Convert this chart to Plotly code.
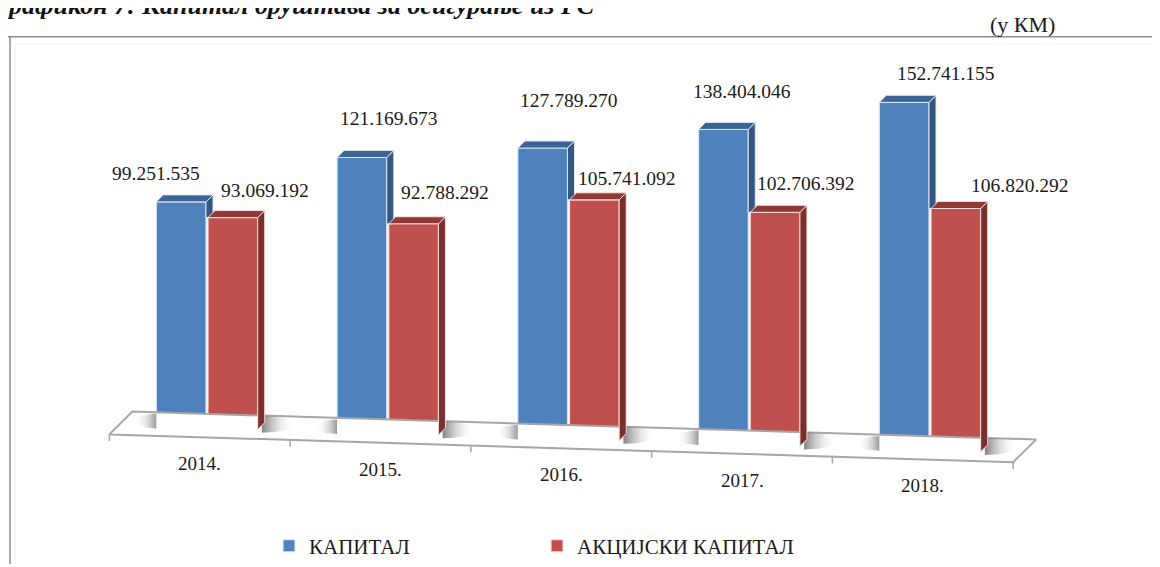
import math
import plotly.graph_objects as go

# ---------------- data ----------------
years = ["2014.", "2015.", "2016.", "2017.", "2018."]
kapital = [99251535, 121169673, 127789270, 138404046, 152741155]
akcijski_kapital = [93069192, 92788292, 105741092, 102706392, 106820292]
series_names = ["КАПИТАЛ", "АКЦИЈСКИ КАПИТАЛ"]
unit_label = "(у КМ)"
title_text = "Графикон 7: Капитал друштава за осигурање из РС"

# ---------------- style ----------------
FONT = "Liberation Serif, Times New Roman, serif"
BLUE = dict(front="#4F81BD", top="#3B6393", side="#34577F", edge="rgba(220,232,246,0.95)")
RED = dict(front="#C0504D", top="#8E3936", side="#7A2F2D", edge="rgba(246,222,221,0.95)")
SCALE = 1e6
OFF = 0.143      # half distance between the two bars of a group
W = 0.275        # bar width (category units)
DX = 0.0387      # depth offset x (category units)
DY = 3.06        # depth offset y (millions)
DROP = 2.445     # perspective drop of floor per category (millions)
FLOOR_FRONT = -3.8
FLOOR_BACK = 6.2
FLOOR_SHIFT = 0.127
PAGE = 8         # page body margin (px)
FW, FH = 1160 - PAGE, 567 - PAGE
PX_PER_CAT = 180.75
PX_PER_M = 2.29
X0_PX = 207 - PAGE
Y0_PX = 431 - PAGE
# label offsets in pixels (xshift, yshift) relative to bar top
blue_label_shift = [(-25, 28), (27, 39), (26, 48), (19, 38), (42, 29)]
red_label_shift = [(32, 27), (31, 31), (33, 21), (31, 29), (64, 23)]


def base(x):
    return -DROP * x


def fmt(v):
    return f"{v:,}".replace(",", ".")


def px(x):  # window pixel -> paper x
    return (x - PAGE) / FW


def py(y):  # window pixel -> paper y
    return 1 - (y - PAGE) / FH


n = len(years)
fig = go.Figure()

# floor
xl, xr = -0.54, n - 0.54
floor_x = [xl, xr, xr + FLOOR_SHIFT, xl + FLOOR_SHIFT, xl]
floor_y = [base(xl) + FLOOR_FRONT, base(xr) + FLOOR_FRONT,
           base(xr) + FLOOR_BACK, base(xl) + FLOOR_BACK, base(xl) + FLOOR_FRONT]
fig.add_trace(go.Scatter(x=floor_x, y=floor_y, mode="lines", fill="toself",
                         fillcolor="white", line=dict(color="#A6A6A6", width=2),
                         hoverinfo="skip", showlegend=False))


def half_ellipse(cx, cy, a, b, side):
    pts = [(-90 + 180 * k / 24) for k in range(25)]
    xs = [cx + side * a * math.cos(math.radians(t)) for t in pts]
    ys = [cy + b * math.sin(math.radians(t)) for t in pts]
    return xs + [xs[0]], ys + [ys[0]]


# floor shadows (soft)
for i in range(n):
    rx1 = i + OFF + W / 2 + DX * 0.6
    b = base(i + OFF)
    xs, ys = half_ellipse(rx1, b + 2.4, 0.18, 3.8, 1)
    fig.add_trace(go.Scatter(
        x=xs, y=ys, mode="lines", fill="toself", line=dict(width=0),
        fillgradient=dict(type="horizontal",
                          colorscale=[[0, "rgba(100,100,100,0.8)"], [0.45, "rgba(160,160,160,0.4)"],
                                      [1, "rgba(255,255,255,0)"]]),
        hoverinfo="skip", showlegend=False))
    bx0 = i - OFF - W / 2
    b2 = base(i - OFF)
    xs, ys = half_ellipse(bx0, b2 + 3.0, 0.12, 3.2, -1)
    fig.add_trace(go.Scatter(
        x=xs, y=ys, mode="lines", fill="toself", line=dict(width=0),
        fillgradient=dict(type="horizontal",
                          colorscale=[[0, "rgba(255,255,255,0)"], [0.6, "rgba(165,165,165,0.4)"],
                                      [1, "rgba(110,110,110,0.7)"]]),
        hoverinfo="skip", showlegend=False))

# ticks on the floor front edge
tx, ty = [], []
for k in range(n + 1):
    x = xl + k * (xr - xl) / n
    y0 = base(x) + FLOOR_FRONT
    tx += [x, x, None]
    ty += [y0, y0 - 3.0, None]
fig.add_trace(go.Scatter(x=tx, y=ty, mode="lines", line=dict(color="#A6A6A6", width=1.5),
                         hoverinfo="skip", showlegend=False))

# bars (front faces)
bx = [i - OFF for i in range(n)]
rx = [i + OFF for i in range(n)]
bv = [v / SCALE for v in kapital]
rv = [v / SCALE for v in akcijski_kapital]
fig.add_trace(go.Bar(x=bx, y=bv, base=[base(x) for x in bx], width=W, name=series_names[0],
                     marker=dict(color=BLUE["front"], line=dict(color=BLUE["edge"], width=1.2)),
                     hoverinfo="skip"))
fig.add_trace(go.Bar(x=rx, y=rv, base=[base(x) for x in rx], width=W, name=series_names[1],
                     marker=dict(color=RED["front"], line=dict(color=RED["edge"], width=1.2)),
                     hoverinfo="skip"))


def poly(xs, ys, color, edge):
    fig.add_trace(go.Scatter(x=xs + [xs[0]], y=ys + [ys[0]], mode="lines", fill="toself",
                             fillcolor=color, line=dict(color=edge, width=1),
                             hoverinfo="skip", showlegend=False))


for i in range(n):
    # blue
    x0, x1 = bx[i] - W / 2, bx[i] + W / 2
    bt = base(bx[i]) + bv[i]
    rt = base(rx[i]) + rv[i]
    if bt > rt:
        poly([x1, x1, x1 + DX, x1 + DX], [rt, bt, bt + DY, rt], BLUE["side"], BLUE["edge"])
    poly([x0, x1, x1 + DX, x0 + DX], [bt, bt, bt + DY, bt + DY], BLUE["top"], BLUE["edge"])
    # red
    x0, x1 = rx[i] - W / 2, rx[i] + W / 2
    b = base(rx[i])
    poly([x1, x1, x1 + DX, x1 + DX], [b, rt, rt + DY, b + DY], RED["side"], RED["edge"])
    poly([x0, x1, x1 + DX, x0 + DX], [rt, rt, rt + DY, rt + DY], RED["top"], RED["edge"])

annotations = []
for i in range(n):
    for xs, vals, raw, shifts in ((bx, bv, kapital, blue_label_shift),
                                  (rx, rv, akcijski_kapital, red_label_shift)):
        annotations.append(dict(x=xs[i], y=base(xs[i]) + vals[i], xref="x", yref="y",
                                text=fmt(raw[i]), showarrow=False, xanchor="center",
                                yanchor="middle", xshift=shifts[i][0], yshift=shifts[i][1],
                                font=dict(family=FONT, size=19.5, color="#1a1a1a")))
    annotations.append(dict(x=i - 0.04, y=base(i) - 15.3, xref="x", yref="y", text=years[i],
                            showarrow=False, xanchor="center", yanchor="middle",
                            font=dict(family=FONT, size=19, color="#1a1a1a")))

annotations.append(dict(x=px(1022), y=py(25), xref="paper", yref="paper", text=unit_label,
                        showarrow=False, xanchor="center", yanchor="middle",
                        font=dict(family=FONT, size=22, color="#1a1a1a")))
annotations.append(dict(x=0, y=1, xref="paper", yref="paper", text="<b><i>" + title_text + "</i></b>",
                        showarrow=False, xanchor="left", yanchor="middle", xshift=-17, yshift=3,
                        font=dict(family=FONT, size=26, color="#111111")))

shapes = [
    dict(type="line", xref="paper", yref="paper", x0=px(8), x1=1.0, y0=py(37), y1=py(37),
         line=dict(color="#8C8C8C", width=1.5)),
    dict(type="line", xref="paper", yref="paper", x0=px(10), x1=px(10), y0=py(37), y1=0,
         line=dict(color="#8C8C8C", width=1.5)),
    dict(type="line", xref="paper", yref="paper", x0=px(15), x1=1.0, y0=py(44), y1=py(44),
         line=dict(color="#EFEFEF", width=1)),
    dict(type="line", xref="paper", yref="paper", x0=px(15), x1=px(15), y0=py(44), y1=0,
         line=dict(color="#EFEFEF", width=1)),
]

fig.update_layout(
    width=FW, height=FH,
    margin=dict(l=0, r=0, t=0, b=0),
    paper_bgcolor="white", plot_bgcolor="white",
    barmode="overlay",
    xaxis=dict(range=[-X0_PX / PX_PER_CAT, (FW - X0_PX) / PX_PER_CAT], visible=False, fixedrange=True),
    yaxis=dict(range=[(Y0_PX - FH) / PX_PER_M, Y0_PX / PX_PER_M], visible=False, fixedrange=True),
    showlegend=True,
    legend=dict(orientation="h", x=px(269), y=py(549), xanchor="left", yanchor="middle",
                font=dict(family=FONT, size=21, color="#1a1a1a"), bgcolor="rgba(0,0,0,0)",
                entrywidth=223, entrywidthmode="pixels", itemwidth=30, traceorder="normal"),
    annotations=annotations,
    shapes=shapes,
    hovermode=False,
)

fig.write_html("out.html")
